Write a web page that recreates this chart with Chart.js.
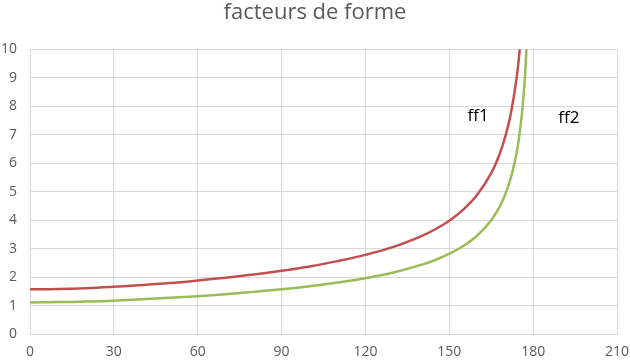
<!DOCTYPE html>
<html>
<head>
<meta charset="utf-8">
<script src="https://cdn.jsdelivr.net/npm/chart.js@4/dist/chart.umd.min.js"></script>
<style>
  html, body { margin: 0; padding: 0; background: #fff; }
  #wrap { width: 630px; height: 361px; }
</style>
</head>
<body>
<div id="wrap"><canvas id="chart"></canvas></div>
<script>
// angle (degrees) and form factors
const angles = [0, 10, 20, 30, 40, 50, 60, 70, 80, 90, 100, 110, 120, 130, 140, 145, 150, 155, 160, 165, 168, 170, 172, 174, 175, 176, 177, 177.5, 178];
const ff1 = [1.57, 1.58, 1.61, 1.66, 1.72, 1.79, 1.88, 1.98, 2.09, 2.22, 2.37, 2.56, 2.78, 3.06, 3.44, 3.68, 3.98, 4.37, 4.89, 5.65, 6.32, 6.93, 7.74, 8.94, 9.80, 10.95, 12.65, 13.85, 15.49];
const ff2 = [1.11, 1.12, 1.14, 1.17, 1.22, 1.27, 1.33, 1.40, 1.48, 1.57, 1.68, 1.81, 1.96, 2.16, 2.43, 2.60, 2.82, 3.09, 3.46, 4.00, 4.47, 4.90, 5.48, 6.32, 6.93, 7.75, 8.94, 9.80, 10.95];
const xTicks = [0, 30, 60, 90, 120, 150, 180, 210];
const labels = [
  { text: "ff1", x: 160.3, y: 7.66 },
  { text: "ff2", x: 192.8, y: 7.59 }
];

const toPoints = ys => angles.map((a, i) => ({ x: a, y: ys[i] }));

const textLabels = {
  id: "textLabels",
  afterDatasetsDraw(chart) {
    const { ctx, scales } = chart;
    ctx.save();
    ctx.font = "17px 'Open Sans', sans-serif";
    ctx.fillStyle = "#000";
    ctx.textAlign = "center";
    ctx.textBaseline = "middle";
    labels.forEach(l => {
      ctx.fillText(l.text, scales.x.getPixelForValue(l.x), scales.y.getPixelForValue(l.y));
    });
    ctx.restore();
  }
};

new Chart(document.getElementById("chart"), {
  type: "scatter",
  data: {
    datasets: [
      { label: "ff1", data: toPoints(ff1), borderColor: "#C0504D", borderWidth: 2.5, showLine: true, pointRadius: 0, tension: 0.4 },
      { label: "ff2", data: toPoints(ff2), borderColor: "#9BBB59", borderWidth: 2.5, showLine: true, pointRadius: 0, tension: 0.4 }
    ]
  },
  options: {
    responsive: true,
    maintainAspectRatio: false,
    animation: false,
    layout: { padding: { left: 0, right: 0, top: 0, bottom: 0 } },
    plugins: {
      legend: { display: false },
      tooltip: { enabled: false },
      title: {
        display: true,
        text: "facteurs de forme",
        color: "#595959",
        font: { family: "'Open Sans', sans-serif", size: 22, weight: "normal" },
        padding: { top: 0, bottom: 23 }
      }
    },
    scales: {
      x: {
        type: "linear",
        min: 0,
        max: 210,
        afterBuildTicks: axis => { axis.ticks = xTicks.map(v => ({ value: v })); },
        grid: { color: "#d9d9d9", drawTicks: false },
        border: { color: "#d9d9d9" },
        ticks: { color: "#595959", padding: 10, font: { family: "'Open Sans', sans-serif", size: 14 } },
        afterFit: axis => { axis.height = 27; axis.paddingRight = 13; }
      },
      y: {
        min: 0,
        max: 10,
        ticks: { stepSize: 1, color: "#595959", padding: 13, font: { family: "'Open Sans', sans-serif", size: 14 } },
        grid: { color: "#d9d9d9", drawTicks: false },
        border: { color: "#d9d9d9" },
        afterFit: axis => { axis.width = 30; }
      }
    }
  },
  plugins: [textLabels]
});
</script>
</body>
</html>
